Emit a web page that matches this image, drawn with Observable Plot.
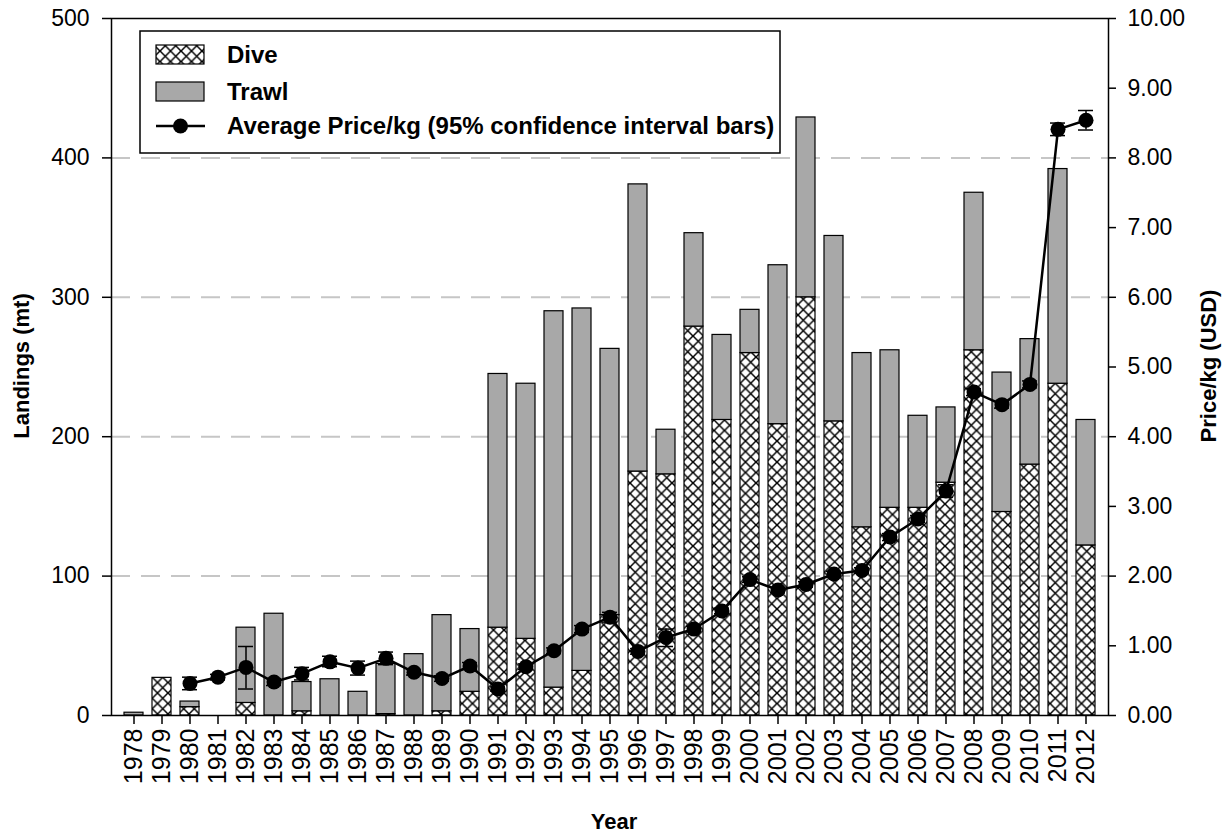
<!DOCTYPE html>
<html>
<head>
<meta charset="utf-8">
<script src="https://cdn.jsdelivr.net/npm/d3@7"></script>
<script src="https://cdn.jsdelivr.net/npm/@observablehq/plot@0.6"></script>
<style>
  body { margin: 0; background: #fff; font-family: "Liberation Sans", Arial, sans-serif; }
  #chart { position: relative; width: 1223px; height: 837px; overflow: hidden; }
  #chart svg.layer { position: absolute; left: 0; top: 0; }
  .axis-title { position: absolute; font-weight: bold; font-size: 22px; color: #000; white-space: nowrap; }
</style>
</head>
<body>
<div id="chart"></div>
<script>
// Landings by gear type (metric tons) and average price per kg (USD), 1978–2012
const years = [1978, 1979, 1980, 1981, 1982, 1983, 1984, 1985, 1986, 1987, 1988, 1989, 1990,
  1991, 1992, 1993, 1994, 1995, 1996, 1997, 1998, 1999, 2000, 2001, 2002, 2003, 2004, 2005,
  2006, 2007, 2008, 2009, 2010, 2011, 2012];
const dive = [0, 27, 6, 0, 9, 0, 3, 0, 0, 1, 0, 3, 17,
  63, 55, 20, 32, 72, 175, 173, 279, 212, 260, 209, 300, 211, 135, 149,
  149, 167, 262, 146, 180, 238, 122];
const trawl = [2, 0, 4, 0, 54, 73, 21, 26, 17, 36, 44, 69, 45,
  182, 183, 270, 260, 191, 206, 32, 67, 61, 31, 114, 129, 133, 125, 113,
  66, 54, 113, 100, 90, 154, 90];
const price = [null, null, 0.46, 0.55, 0.69, 0.48, 0.60, 0.77, 0.68, 0.82, 0.62, 0.53, 0.71,
  0.38, 0.70, 0.93, 1.24, 1.41, 0.92, 1.12, 1.24, 1.50, 1.95, 1.80, 1.88, 2.03, 2.08, 2.56,
  2.82, 3.22, 4.64, 4.46, 4.75, 8.41, 8.54];
const priceLow = [null, null, 0.37, 0.51, 0.38, 0.43, 0.51, 0.70, 0.58, 0.73, 0.58, 0.49, 0.66,
  0.35, 0.66, 0.89, 1.19, 1.34, 0.88, 0.99, 1.20, 1.46, 1.91, 1.76, 1.84, 1.99, 2.04, 2.51,
  2.77, 3.13, 4.59, 4.41, 4.70, 8.32, 8.40];
const priceHigh = [null, null, 0.55, 0.59, 0.99, 0.53, 0.69, 0.85, 0.78, 0.91, 0.66, 0.57, 0.76,
  0.41, 0.74, 0.97, 1.29, 1.48, 0.96, 1.24, 1.28, 1.54, 1.99, 1.84, 1.92, 2.07, 2.12, 2.61,
  2.87, 3.31, 4.69, 4.51, 4.80, 8.50, 8.68];
const landingTicks = [0, 100, 200, 300, 400, 500];
const priceTicks = [0, 1, 2, 3, 4, 5, 6, 7, 8, 9, 10];
const legendLabels = ["Dive", "Trawl", "Average Price/kg (95% confidence interval bars)"];

// Row tables built from the arrays above
const landings = years.map((year, i) => ({year, dive: dive[i], trawl: trawl[i], total: dive[i] + trawl[i]}));
const prices = years
  .map((year, i) => ({year, price: price[i], lo: priceLow[i], hi: priceHigh[i]}))
  .filter(d => d.price != null);

const W = 1223, H = 837;
const margins = {marginLeft: 111, marginRight: 115, marginTop: 18, marginBottom: 122};
const xScale = {type: "band", domain: years, paddingInner: 0.33, paddingOuter: 0.165};
const font = '"Liberation Sans", Arial, sans-serif';
const trawlGray = "#a8a8a8";

const chart = document.getElementById("chart");

// Shared pattern definitions (cross-hatch for dive landings)
const defs = document.createElementNS("http://www.w3.org/2000/svg", "svg");
defs.setAttribute("width", 0);
defs.setAttribute("height", 0);
defs.style.position = "absolute";
defs.innerHTML = `
  <defs>
    <pattern id="diveHatch" patternUnits="userSpaceOnUse" width="10.5" height="10.5">
      <rect width="10.5" height="10.5" fill="#fff"/>
      <path d="M-1,-1L11.5,11.5M11.5,-1L-1,11.5" stroke="#000" stroke-width="1.5"/>
    </pattern>
  </defs>`;
chart.appendChild(defs);

// Layer 1: stacked landings bars with the left axis
const bars = Plot.plot({
  width: W, height: H, ...margins,
  style: {background: "transparent", fontFamily: font, fontSize: "23px", color: "#000"},
  x: xScale,
  y: {domain: [0, 500]},
  marks: [
    Plot.ruleY([100, 200, 300, 400], {stroke: "#c6c6c6", strokeWidth: 2, strokeDasharray: "19,11"}),
    Plot.rectY(landings.filter(d => d.dive > 0), {x: "year", y1: 0, y2: "dive", fill: "url(#diveHatch)", stroke: "#000", strokeWidth: 1.2}),
    Plot.rectY(landings.filter(d => d.trawl > 0), {x: "year", y1: "dive", y2: "total", fill: trawlGray, stroke: "#000", strokeWidth: 1.2}),
    Plot.frame({stroke: "#000", strokeWidth: 1.5}),
    Plot.axisY({ticks: landingTicks, tickSize: 9, tickPadding: 13, fontSize: 23, label: null, strokeWidth: 1.5}),
    Plot.axisX({tickRotate: -90, tickFormat: d => String(d), tickSize: 9, tickPadding: 4, fontSize: 25, label: null, strokeWidth: 1.5})
  ]
});
bars.classList.add("layer");
chart.appendChild(bars);

// Layer 2: average price line with confidence interval bars and the right axis
const priceLayer = Plot.plot({
  width: W, height: H, ...margins,
  style: {background: "transparent", fontFamily: font, fontSize: "23px", color: "#000"},
  x: {...xScale, axis: null},
  y: {domain: [0, 10]},
  marks: [
    Plot.line(prices, {x: "year", y: "price", stroke: "#000", strokeWidth: 2.5}),
    Plot.ruleX(prices, {x: "year", y1: "lo", y2: "hi", stroke: "#000", strokeWidth: 1.5}),
    Plot.tickY(prices, {x: "year", y: "lo", stroke: "#000", strokeWidth: 1.5, inset: 2}),
    Plot.tickY(prices, {x: "year", y: "hi", stroke: "#000", strokeWidth: 1.5, inset: 2}),
    Plot.dot(prices, {x: "year", y: "price", r: 7.5, fill: "#000", stroke: "none"}),
    Plot.axisY({anchor: "right", ticks: priceTicks, tickFormat: d3.format(".2f"), tickSize: 7, tickPadding: 12, fontSize: 23, label: null, strokeWidth: 1.5})
  ]
});
priceLayer.classList.add("layer");
chart.appendChild(priceLayer);

// Axis titles
function addTitle(text, css) {
  const el = document.createElement("div");
  el.className = "axis-title";
  el.textContent = text;
  Object.assign(el.style, css);
  chart.appendChild(el);
}
addTitle("Landings (mt)", {left: "22px", top: "366px", transform: "translate(-50%, -50%) rotate(-90deg)"});
addTitle("Price/kg (USD)", {left: "1209px", top: "366px", transform: "translate(-50%, -50%) rotate(-90deg)"});
addTitle("Year", {left: "614px", top: "822px", transform: "translate(-50%, -50%)"});

// Legend box inside the plot area
const legend = document.createElementNS("http://www.w3.org/2000/svg", "svg");
legend.setAttribute("width", 642);
legend.setAttribute("height", 124);
legend.style.position = "absolute";
legend.style.left = "139px";
legend.style.top = "30px";
legend.innerHTML = `
  <rect x="1" y="1" width="640" height="122" fill="#fff" stroke="#000" stroke-width="1.5"/>
  <rect x="17" y="15" width="48" height="19" fill="url(#diveHatch)" stroke="#000" stroke-width="1.2"/>
  <rect x="17" y="52" width="48" height="19" fill="${trawlGray}" stroke="#000" stroke-width="1.2"/>
  <line x1="17" x2="66" y1="96" y2="96" stroke="#000" stroke-width="2.5"/>
  <circle cx="41.5" cy="96" r="7.5" fill="#000"/>
  <g font-family='${font}' font-weight="bold" font-size="24" fill="#000">
    <text x="88" y="33">${legendLabels[0]}</text>
    <text x="88" y="70">${legendLabels[1]}</text>
    <text x="88" y="104">${legendLabels[2]}</text>
  </g>`;
chart.appendChild(legend);
</script>
</body>
</html>
